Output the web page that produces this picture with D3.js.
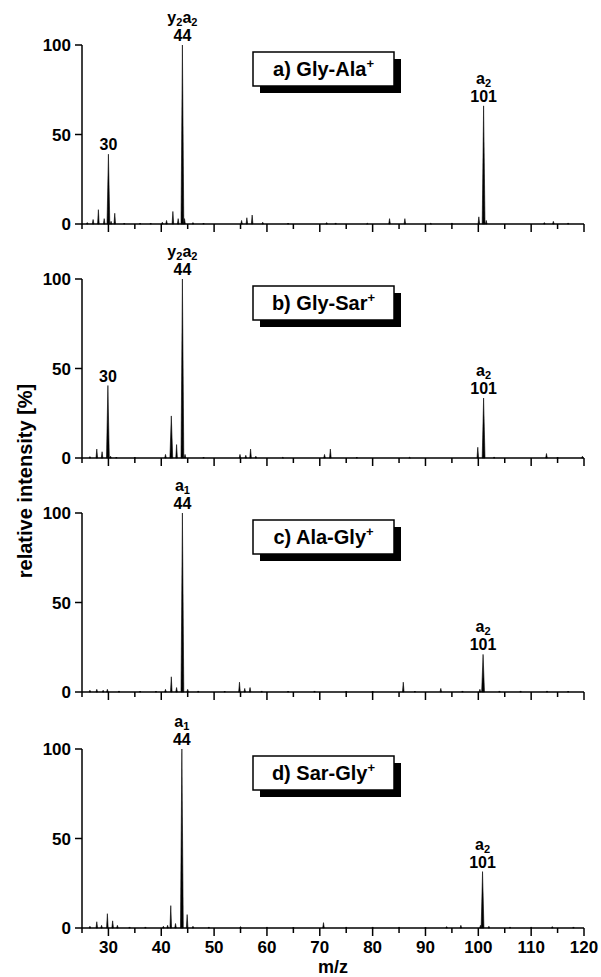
<!DOCTYPE html>
<html>
<head>
<meta charset="utf-8">
<script src="https://cdn.jsdelivr.net/npm/d3@7"></script>
<style>
  html, body { margin: 0; padding: 0; background: #fff; }
  svg { display: block; font-family: "Liberation Sans", Arial, Helvetica, sans-serif; font-weight: bold; }
</style>
</head>
<body>
<svg id="chart" width="601" height="977"></svg>
<script>
// ─── Data ─────────────────────────────────────────────────────────────────────
const panelNames = ["a) Gly-Ala", "b) Gly-Sar", "c) Ala-Gly", "d) Sar-Gly"];
const xTicks     = d3.range(25, 121, 5);
const xLabels    = d3.range(30, 121, 10);
const yTicks     = [0, 50, 100];

// [m/z, relative intensity %]
const peaksA = [[26.0,0.8],[27.1,2.5],[28.1,8],[29.2,3],[30.0,39],[30.5,1.5],[31.2,6],[33,0.5],[36,0.5],[38,0.5],
  [40.2,1],[41.0,2],[42.2,7],[43.2,3],[44.0,100],[44.4,3],[46,0.8],[48,0.5],[55.2,2],[56.2,3.5],[57.2,5],[59.2,1],
  [64,0.5],[71.3,0.8],[73,0.6],[79,0.4],[83.2,3],[86.1,3],[91,0.4],[95,0.6],[100.1,4],[101.0,66],[101.5,2],
  [112.5,0.8],[114.2,1.5],[117,0.6]];
const peaksB = [[26.5,0.8],[27.8,5],[28.8,3.5],[29.9,40.5],[30.4,1],[31.5,0.5],[35,0.5],[40.8,2],[41.9,23.5],
  [42.9,7.5],[44.0,100],[44.5,2],[48,0.5],[54.9,2],[56.0,1.5],[56.9,5],[57.9,1],[63,0.4],[70.9,2],[72.0,5],
  [77,0.5],[87,0.4],[99.9,6],[101.0,33.5],[103,0.6],[112.9,2.5],[115,0.5],[119.7,1]];
const peaksC = [[26.5,1],[27.8,1.5],[29.0,1],[29.8,1.5],[32,0.6],[36,0.5],[39,0.5],[40.8,1.5],[41.9,8.5],[42.9,2.5],
  [44.0,100],[45.0,1.5],[47,0.6],[52,0.5],[54.8,5.5],[55.8,2],[56.8,2.5],[59,0.6],[64,0.5],[69,0.6],[75,0.5],
  [80,0.5],[85.8,5.5],[88,0.5],[92.9,2],[97,0.6],[100.3,1.5],[100.9,21],[104,0.6],[108,0.6],[113,0.6],[117,0.5]];
const peaksD = [[26.5,1],[27.8,3.5],[28.7,1.5],[29.8,8],[30.8,4],[31.7,1.5],[34,0.6],[37,0.6],[40.4,1],[41.2,1.5],
  [41.8,12.5],[42.7,2.5],[43.9,100],[44.9,7.5],[46,1],[49,0.6],[55,0.8],[60,0.6],[65,0.5],[70.7,3],[75,0.6],
  [80,0.6],[85,0.6],[90,0.5],[94,0.8],[96.7,1.5],[100.4,1.5],[100.8,31.5],[102,1],[106,0.6],[110,0.6],
  [114,0.8],[118,0.6]];

// peak annotations: m/z, intensity, ion name as [letter, subscript] pairs, mass label
const labelsA = [{ mz: 30.0, v: 39,   ion: [],                   mass: "30"  },
                 { mz: 44.0, v: 100,  ion: [["y","2"],["a","2"]], mass: "44"  },
                 { mz: 101.0, v: 66,  ion: [["a","2"]],           mass: "101" }];
const labelsB = [{ mz: 29.9, v: 40.5, ion: [],                   mass: "30"  },
                 { mz: 44.0, v: 100,  ion: [["y","2"],["a","2"]], mass: "44"  },
                 { mz: 101.0, v: 33.5, ion: [["a","2"]],          mass: "101" }];
const labelsC = [{ mz: 44.0, v: 100,  ion: [["a","1"]],           mass: "44"  },
                 { mz: 100.9, v: 21,  ion: [["a","2"]],           mass: "101" }];
const labelsD = [{ mz: 43.9, v: 100,  ion: [["a","1"]],           mass: "44"  },
                 { mz: 100.8, v: 31.5, ion: [["a","2"]],          mass: "101" }];

const panelPeaks  = [peaksA, peaksB, peaksC, peaksD];
const panelLabels = [labelsA, labelsB, labelsC, labelsD];

// ─── Layout ───────────────────────────────────────────────────────────────────
const svg     = d3.select("#chart");
const left    = 82, right = 584;
const tops    = [45, 279, 513, 749];
const plotH   = 179;

const x = d3.scaleLinear().domain([25, 120]).range([left, right]);

panelPeaks.forEach((peaks, i) => {
    const top = tops[i], base = top + plotH;
    const y = d3.scaleLinear().domain([0, 100]).range([base, top]);
    const g = svg.append("g");

    // peaks as narrow triangles
    g.selectAll("path.peak").data(peaks).join("path")
        .attr("class", "peak")
        .attr("d", d => {
            const cx = x(d[0]), hw = d[1] > 15 ? 1.4 : 0.8;
            return `M${cx - hw},${base} L${cx},${y(d[1])} L${cx + hw},${base} Z`;
        })
        .attr("fill", "#000").attr("stroke", "#000").attr("stroke-width", 0.6);

    // y axis
    g.append("line").attr("x1", left).attr("x2", left).attr("y1", top).attr("y2", base)
        .attr("stroke", "#000").attr("stroke-width", 1.5);
    g.selectAll("line.ytick").data(yTicks).join("line").attr("class", "ytick")
        .attr("x1", left - 7).attr("x2", left).attr("y1", d => y(d)).attr("y2", d => y(d))
        .attr("stroke", "#000").attr("stroke-width", 1.5);
    g.selectAll("text.ylab").data(yTicks).join("text").attr("class", "ylab")
        .attr("x", left - 11).attr("y", d => y(d)).attr("dy", "0.36em")
        .attr("text-anchor", "end").attr("font-size", 17).text(d => d);

    // x axis
    g.append("line").attr("x1", left).attr("x2", right).attr("y1", base).attr("y2", base)
        .attr("stroke", "#000").attr("stroke-width", 1.5);
    g.selectAll("line.xtick").data(xTicks).join("line").attr("class", "xtick")
        .attr("x1", d => x(d)).attr("x2", d => x(d))
        .attr("y1", base).attr("y2", d => base + (d % 10 === 0 ? 8 : 5))
        .attr("stroke", "#000").attr("stroke-width", 1.5);

    if (i === panelPeaks.length - 1) {
        g.selectAll("text.xlab").data(xLabels).join("text").attr("class", "xlab")
            .attr("x", d => x(d)).attr("y", base + 25)
            .attr("text-anchor", "middle").attr("font-size", 17).text(d => d);
    }

    // peak annotations
    panelLabels[i].forEach(l => {
        const px = x(l.mz), py = y(l.v);
        g.append("text").attr("x", px).attr("y", py - 4)
            .attr("text-anchor", "middle").attr("font-size", 16).text(l.mass);
        if (l.ion.length) {
            const t = g.append("text").attr("x", px).attr("y", py - 22)
                .attr("text-anchor", "middle").attr("font-size", 16);
            l.ion.forEach(([s, sub], k) => {
                t.append("tspan").attr("dy", k ? -3 : 0).text(s);
                t.append("tspan").attr("font-size", 11).attr("dy", 3).text(sub);
            });
        }
    });

    // name box with drop shadow
    const bx = 253, by = top + 7, bw = 141, bh = 34;
    g.append("rect").attr("x", bx + 7).attr("y", by + 7).attr("width", bw).attr("height", bh).attr("fill", "#000");
    g.append("rect").attr("x", bx).attr("y", by).attr("width", bw).attr("height", bh)
        .attr("fill", "#fff").attr("stroke", "#000").attr("stroke-width", 1.5);
    const nt = g.append("text").attr("x", bx + bw / 2).attr("y", by + bh / 2).attr("dy", "0.36em")
        .attr("text-anchor", "middle").attr("font-size", 20);
    nt.append("tspan").text(panelNames[i]);
    nt.append("tspan").attr("font-size", 13).attr("dy", -8).text("+");
});

// axis titles
svg.append("text").attr("transform", `translate(25,481) rotate(-90)`).attr("dy", "0.36em")
    .attr("text-anchor", "middle").attr("font-size", 20).text("relative intensity [%]");
svg.append("text").attr("x", (left + right) / 2).attr("y", 973)
    .attr("text-anchor", "middle").attr("font-size", 18).text("m/z");
</script>
</body>
</html>
